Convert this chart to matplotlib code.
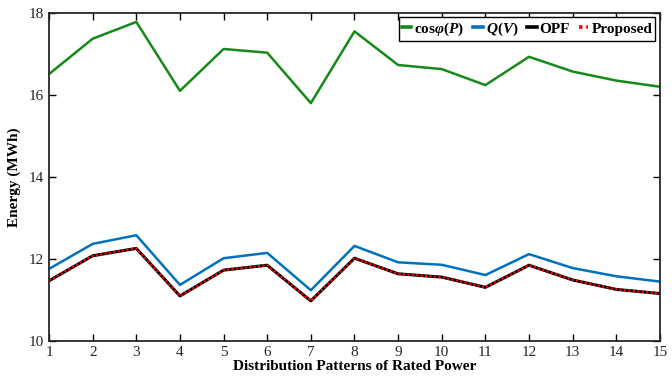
import matplotlib.pyplot as plt
import numpy as np

plt.rcParams['font.family'] = ['Liberation Serif', 'DejaVu Serif']
plt.rcParams['mathtext.fontset'] = 'custom'
plt.rcParams['mathtext.rm'] = 'Liberation Serif:bold'
plt.rcParams['mathtext.it'] = 'Liberation Serif:italic:bold'
plt.rcParams['mathtext.bf'] = 'Liberation Serif:bold'

# 데이터
patterns = np.arange(1, 16)
cos_phi = [16.51, 17.37, 17.78, 16.10, 17.12, 17.03, 15.80, 17.55, 16.73, 16.63,
           16.24, 16.93, 16.57, 16.35, 16.20]
q_v = [11.76, 12.37, 12.58, 11.37, 12.02, 12.15, 11.24, 12.32, 11.92, 11.86,
       11.61, 12.12, 11.78, 11.58, 11.45]
opf = [11.47, 12.08, 12.26, 11.10, 11.73, 11.85, 10.98, 12.02, 11.64, 11.56,
       11.31, 11.85, 11.49, 11.26, 11.16]
proposed = [11.47, 12.08, 12.26, 11.10, 11.73, 11.85, 10.98, 12.02, 11.64, 11.56,
            11.31, 11.85, 11.49, 11.26, 11.16]

fig = plt.figure(figsize=(6.72, 3.79), dpi=100)
ax = fig.add_axes([0.073, 0.100, 0.909, 0.866])

ax.plot(patterns, cos_phi, color='#168a18', lw=1.8, label=r'cos$\mathit{\varphi}(P)$')
ax.plot(patterns, q_v, color='#0072BD', lw=1.8, label=r'$Q(V)$')
ax.plot(patterns, opf, color='black', lw=2.2, label='OPF')
ax.plot(patterns, proposed, color='red', lw=1.6, ls=(0, (1, 1)), label='Proposed')

ax.set_xlim(1, 15)
ax.set_ylim(10, 18)
ax.set_xticks(patterns)
ax.set_yticks([10, 12, 14, 16, 18])
ax.tick_params(direction='in', top=True, right=True, labelsize=11, length=5, width=1,
               labelcolor='#262626')
for s in ax.spines.values():
    s.set_linewidth(1.3)
    s.set_color('#262626')

ax.set_xlabel('Distribution Patterns of Rated Power', fontsize=11, fontweight='bold', labelpad=1)
ax.set_ylabel('Energy (MWh)', fontsize=11, fontweight='bold', labelpad=6)

leg = ax.legend(loc='upper right', ncol=4, prop={'weight': 'bold', 'size': 11},
                handlelength=0.6, handletextpad=0.2, columnspacing=0.6,
                borderpad=0.2, borderaxespad=0.3, fancybox=False, framealpha=1)
leg.get_frame().set_edgecolor('black')
leg.get_frame().set_linewidth(1.0)
for h in leg.get_lines():
    h.set_linewidth(2.6)

fig.savefig('out.png', dpi=100)
